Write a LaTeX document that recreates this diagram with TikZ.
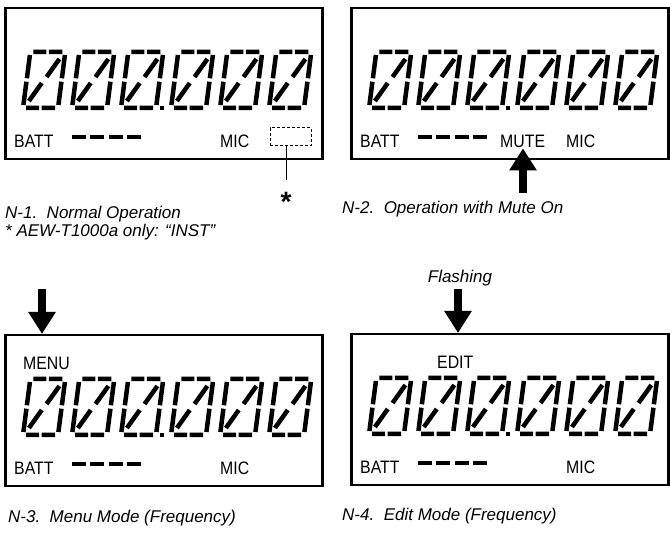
\documentclass[tikz,border=0pt]{standalone}
\usepackage{fontspec}
\setmainfont{Liberation Sans}
\newfontfamily\lcdfont[FakeStretch=0.88]{Liberation Sans}
\usetikzlibrary{arrows.meta}
\tikzset{
  seg/.style={line width=4.5pt},
  lcdbox/.style={draw, line width=2.5pt, minimum width=317pt, minimum height=151pt, anchor=north west, inner sep=0pt},
  lcdlabel/.style={font=\lcdfont\fontsize{18}{18}\selectfont, inner sep=0pt, anchor=base west},
  lcddash/.style={line width=4.5pt, dash pattern=on 14pt off 4.3pt},
  caption/.style={font=\itshape\fontsize{17}{18}\selectfont, inner sep=0pt, anchor=base west, align=left},
  bigarrow/.style={line width=8pt, -{Triangle[width=26pt,length=22pt]}},
}
\newcommand{\lcddigit}[1]{%
  \begin{scope}[shift={#1}, xslant=0.13]
    \draw[seg] (3,0) -- (16,0) (18.5,0) -- (32,0)
      (0,3) -- (0,26.3) (35,3) -- (35,26.3)
      (0,29.7) -- (0,53) (35,29.7) -- (35,53)
      (3,56) -- (16,56) (18.5,56) -- (32,56)
      (19.5,25) -- (30,7) (15.5,31) -- (5,49);
  \end{scope}}
\newcommand{\lcdpanel}[3]{%
  \begin{scope}[shift={(#2,#3)}]
    \node[lcdbox] (box#1) at (0,0) {};
    \foreach \dx in {0,49,98,148,197,246} \lcddigit{(26.3+\dx,45)};
    \fill (155.5,99.5) rectangle (159.5,103.5);
    \node[lcdlabel] (batt#1) at (10,141) {BATT};
    \draw[lcddash] (68,130) -- (137,130);
    \node[lcdlabel] (mic#1) at (216,141) {MIC};
  \end{scope}}
\begin{document}
\begin{tikzpicture}[x=1pt,y=-1pt]
\useasboundingbox (0,0) rectangle (670,534);
\lcdpanel{1}{4}{7}
\lcdpanel{2}{350}{7}
\lcdpanel{3}{4}{334}
\lcdpanel{4}{350}{333}

% N-1
\node[draw, line width=1pt, dash pattern=on 3pt off 2pt, minimum width=41pt, minimum height=18pt, inner sep=0pt] (inst) at (290.5,137) {};
\node[font=\bfseries\fontsize{28}{28}\selectfont, inner sep=0pt] (star) at (286,201.5) {*};
\draw[line width=1pt] (star |- inst.south) -- ([yshift=12pt]star.north);
\node[caption] (cap1) at (5,237) {N-1.\ \ Normal Operation\\* AEW-T1000a only: “INST”};

% N-2
\node[lcdlabel] (mute) at (500,148) {MUTE};
\coordinate (mutetail) at (523,193);
\draw[bigarrow] (mutetail) -- (mutetail |- mute.south);
\node[caption] (cap2) at (342,214) {N-2.\ \ Operation with Mute On};

% N-3
\node[lcdlabel] (menu) at (23,370) {MENU};
\coordinate (menutail) at (42,289);
\draw[bigarrow] (menutail) -- (menutail |- box3.north);
\node[caption] (cap3) at (8,523) {N-3.\ \ Menu Mode (Frequency)};

% N-4
\node[lcdlabel] (edit) at (437,369) {EDIT};
\node[caption, anchor=base] (flash) at (460,283) {Flashing};
\coordinate (edittail) at (458,289);
\draw[bigarrow] (edittail) -- (edittail |- box4.north);
\node[caption] (cap4) at (342,521) {N-4.\ \ Edit Mode (Frequency)};
\end{tikzpicture}
\end{document}
